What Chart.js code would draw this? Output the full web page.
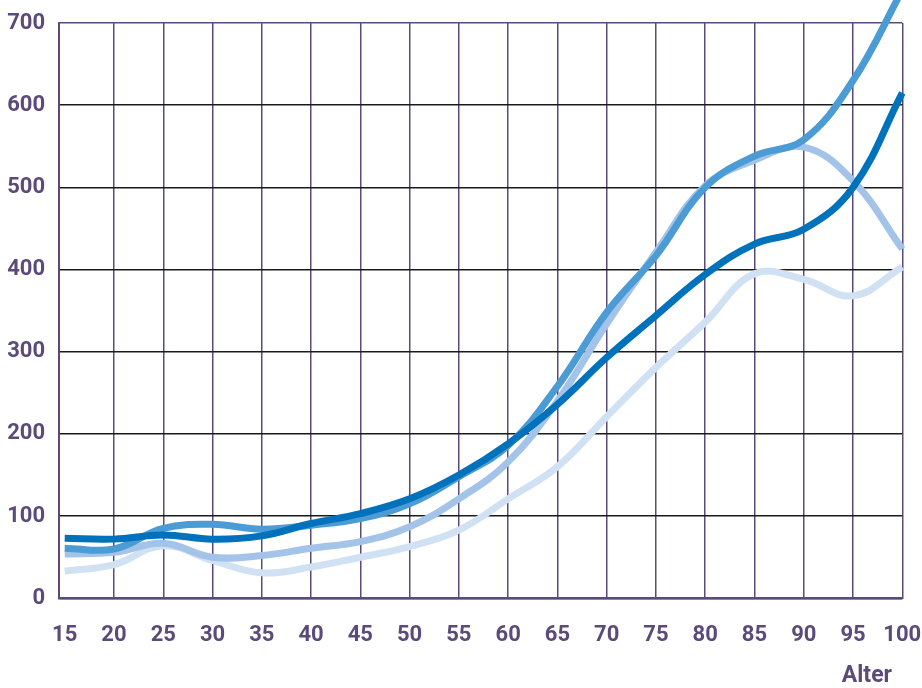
<!DOCTYPE html>
<html>
<head>
<meta charset="utf-8">
<script src="https://cdn.jsdelivr.net/npm/chart.js@4.4.1/dist/chart.umd.min.js"></script>
<style>
  html, body { margin: 0; padding: 0; background: #ffffff; }
  #wrap { width: 922px; height: 688px; }
</style>
</head>
<body>
<div id="wrap"><canvas id="c" width="922" height="688"></canvas></div>
<script>
// ---- data ----
const ages = [15, 20, 25, 30, 35, 40, 45, 50, 55, 60, 65, 70, 75, 80, 85, 90, 95, 100];
const seriesA = [73, 72, 77, 72, 76, 91, 103, 121, 150, 188, 236, 293, 344, 394, 431, 449, 500, 615];
const seriesB = [61, 60, 85, 90, 84, 89, 97, 115, 148, 186, 258, 348, 417, 500, 538, 558, 630, 740];
const seriesC = [54, 56, 67, 50, 52, 61, 69, 87, 121, 166, 240, 334, 421, 502, 533, 549, 508, 425];
const seriesD = [33, 41, 64, 46, 31, 38, 50, 63, 83, 121, 160, 221, 281, 336, 395, 388, 368, 403];
const xTicks = [15, 20, 25, 30, 35, 40, 45, 50, 55, 60, 65, 70, 75, 80, 85, 90, 95, 100];
const yTicks = [0, 100, 200, 300, 400, 500, 600, 700];
const xAxisTitle = 'Alter';

const PURPLE = '#5b4a7a';
const pts = arr => ages.map((a, i) => ({ x: a, y: arr[i] }));

const alterPlugin = {
  id: 'alterLabel',
  afterDraw(chart) {
    const ctx = chart.ctx;
    ctx.save();
    ctx.font = 'bold 23px Roboto';
    ctx.fillStyle = PURPLE;
    ctx.textAlign = 'right';
    ctx.textBaseline = 'middle';
    ctx.fillText(xAxisTitle, 892, 676);
    ctx.restore();
  }
};

const mk = (data, color) => ({
  data: pts(data),
  borderColor: color,
  borderWidth: 7,
  pointRadius: 0,
  tension: 0.4,
  fill: false,
  clip: false
});

new Chart(document.getElementById('c'), {
  type: 'line',
  data: {
    datasets: [
      mk(seriesA, '#0072bc'),
      mk(seriesB, '#4b9bd5'),
      mk(seriesC, '#a3c3e9'),
      mk(seriesD, '#d1e1f4')
    ]
  },
  options: {
    responsive: false,
    animation: false,
    devicePixelRatio: 1,
    layout: { padding: { top: 23, right: 19.7, left: 0, bottom: 0 } },
    plugins: { legend: { display: false }, tooltip: { enabled: false } },
    scales: {
      x: {
        type: 'linear',
        min: 14.42,
        max: 100,
        afterBuildTicks(scale) { scale.ticks = xTicks.map(v => ({ value: v })); },
        afterFit(scale) {
          scale.height = 89.7;
          scale.paddingLeft = 0;
          scale.paddingRight = 0;
        },
        grid: {
          drawTicks: false,
          lineWidth: 1.5,
          color: ctx => (ctx.tick && ctx.tick.value === 15) ? 'rgba(0,0,0,0)' : PURPLE
        },
        border: { display: true, color: PURPLE, width: 2 },
        ticks: {
          padding: 24,
          color: PURPLE,
          font: { family: 'Roboto', size: 22, weight: 'bold' },
          maxRotation: 0,
          autoSkip: false
        }
      },
      y: {
        type: 'linear',
        min: 0,
        max: 700,
        afterBuildTicks(scale) { scale.ticks = yTicks.map(v => ({ value: v })); },
        afterFit(scale) {
          scale.width = 59;
          scale.paddingTop = 0;
          scale.paddingBottom = 0;
        },
        grid: {
          drawTicks: false,
          lineWidth: 1.5,
          color: ctx => (ctx.tick && ctx.tick.value === 700) ? PURPLE : '#1a1a1a'
        },
        border: { display: true, color: PURPLE, width: 2 },
        ticks: {
          padding: 14,
          color: PURPLE,
          font: { family: 'Roboto', size: 22, weight: 'bold' }
        }
      }
    }
  },
  plugins: [alterPlugin]
});
</script>
</body>
</html>
